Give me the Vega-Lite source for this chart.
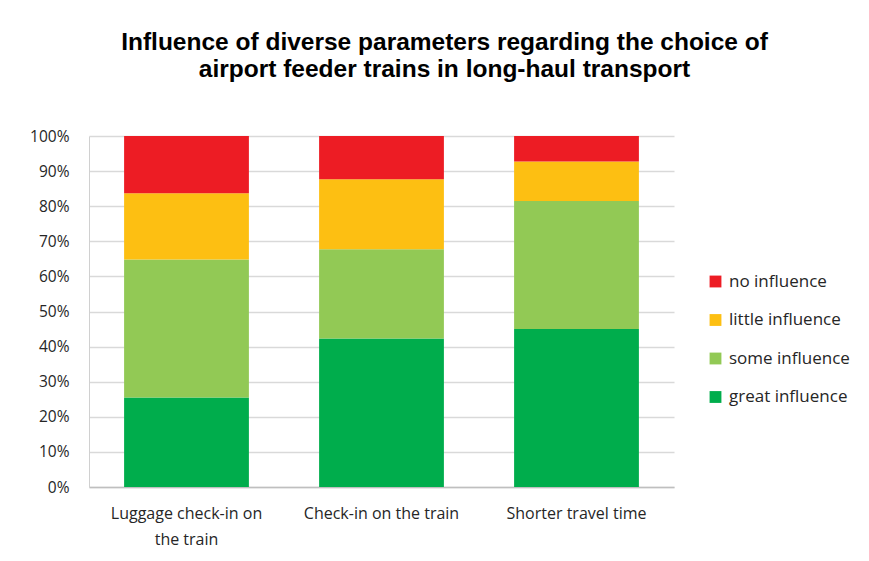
{
  "$schema": "https://vega.github.io/schema/vega-lite/v6.json",
  "autosize": "none",
  "width": 585,
  "height": 351,
  "padding": {"left": 89, "top": 136, "right": 195, "bottom": 74},
  "background": "white",
  "title": {
    "text": ["Influence of diverse parameters regarding the choice of", "airport feeder trains in long-haul transport"],
    "font": "Liberation Sans",
    "fontSize": 24.5,
    "fontWeight": "bold",
    "color": "#000000",
    "lineHeight": 27,
    "anchor": "middle",
    "frame": "group",
    "dx": 63,
    "offset": 47
  },
  "data": {
    "values": [
      {"param": "Luggage check-in on the train", "level": "great influence", "rank": 1, "share": 25.5},
      {"param": "Luggage check-in on the train", "level": "some influence", "rank": 2, "share": 39.3},
      {"param": "Luggage check-in on the train", "level": "little influence", "rank": 3, "share": 18.9},
      {"param": "Luggage check-in on the train", "level": "no influence", "rank": 4, "share": 16.3},
      {"param": "Check-in on the train", "level": "great influence", "rank": 1, "share": 42.3},
      {"param": "Check-in on the train", "level": "some influence", "rank": 2, "share": 25.4},
      {"param": "Check-in on the train", "level": "little influence", "rank": 3, "share": 20.0},
      {"param": "Check-in on the train", "level": "no influence", "rank": 4, "share": 12.3},
      {"param": "Shorter travel time", "level": "great influence", "rank": 1, "share": 45.0},
      {"param": "Shorter travel time", "level": "some influence", "rank": 2, "share": 36.5},
      {"param": "Shorter travel time", "level": "little influence", "rank": 3, "share": 11.2},
      {"param": "Shorter travel time", "level": "no influence", "rank": 4, "share": 7.3}
    ]
  },
  "mark": {"type": "bar"},
  "encoding": {
    "x": {
      "field": "param",
      "type": "nominal",
      "sort": null,
      "scale": {"paddingInner": 0.36, "paddingOuter": 0.18},
      "axis": {
        "title": null,
        "labelAngle": 0,
        "labelFont": "Open Sans",
        "labelFontSize": 16,
        "labelColor": "#262626",
        "labelPadding": 18,
        "labelLineHeight": 26,
        "ticks": false,
        "domainColor": "#bfbfbf",
        "domainWidth": 1.5,
        "labelExpr": "datum.label == 'Luggage check-in on the train' ? ['Luggage check-in on', 'the train'] : datum.label"
      }
    },
    "y": {
      "field": "share",
      "type": "quantitative",
      "stack": "normalize",
      "scale": {"domain": [0, 1]},
      "axis": {
        "title": null,
        "format": ".0%",
        "values": [0, 0.1, 0.2, 0.3, 0.4, 0.5, 0.6, 0.7, 0.8, 0.9, 1],
        "labelOverlap": false,
        "labelFont": "Open Sans",
        "labelFontSize": 15.5,
        "labelColor": "#262626",
        "labelPadding": 20,
        "ticks": false,
        "domainColor": "#d0d0d0",
        "domainWidth": 1,
        "gridColor": "#d9d9d9",
        "gridWidth": 1.5
      }
    },
    "color": {
      "field": "level",
      "type": "nominal",
      "scale": {
        "domain": ["no influence", "little influence", "some influence", "great influence"],
        "range": ["#ed1c24", "#fdbf12", "#92c955", "#00ad4c"]
      },
      "legend": {
        "title": null,
        "orient": "none",
        "legendX": 618,
        "legendY": 137,
        "symbolType": "square",
        "symbolSize": 140,
        "symbolStrokeWidth": 0,
        "labelFont": "Open Sans",
        "labelFontSize": 17,
        "labelColor": "#262626",
        "rowPadding": 20.5,
        "labelOffset": 5
      }
    },
    "order": {"field": "rank", "type": "quantitative"}
  },
  "config": {"view": {"stroke": null}}
}
